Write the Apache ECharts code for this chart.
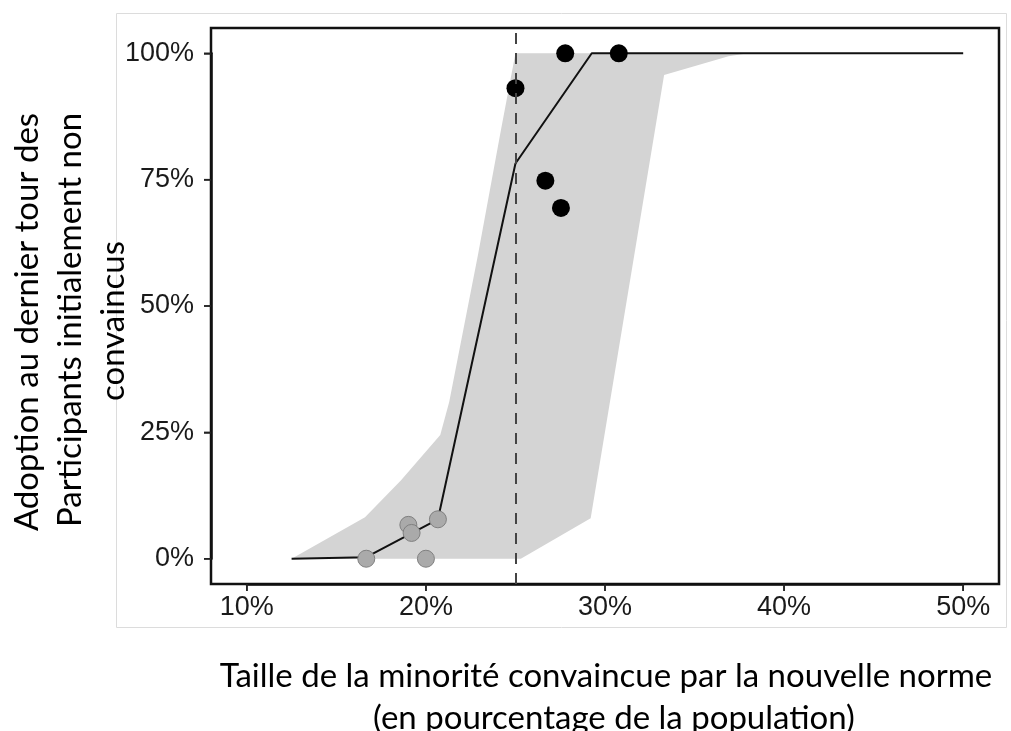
<!DOCTYPE html>
<html>
<head>
<meta charset="utf-8">
<script src="https://cdn.jsdelivr.net/npm/echarts@6/dist/echarts.min.js"></script>
<style>
  html, body { margin: 0; padding: 0; background: #fff; }
  #chart { width: 1011px; height: 731px; }
</style>
</head>
<body>
<div id="chart"></div>
<script>
// ---- data (percent units) ----
const xTicks = [10, 20, 30, 40, 50];
const yTicks = [0, 25, 50, 75, 100];

// fitted curve
const fitX = [12.5, 16.67, 20.67, 25.0, 29.26, 50];
const fitY = [0, 0.3, 7.8, 78.2, 100, 100];

// confidence band (upper / lower boundaries)
const bandUpperX = [12.5, 16.6, 18.6, 20.8, 21.3, 22.9, 24.2, 25.0, 50];
const bandUpperY = [0, 8.2, 15.5, 24.5, 31, 60, 85, 100, 100];
const bandLowerX = [12.5, 25.3, 29.2, 33.3, 36.9, 38.0, 50];
const bandLowerY = [0, 0, 8.0, 95.7, 99.4, 100, 100];

// observed groups: above threshold (black), below threshold (grey)
const convX = [25.0, 27.78, 30.77, 26.67, 27.54];
const convY = [93.1, 100, 100, 74.8, 69.4];
const grayX = [16.67, 19.02, 19.2, 20.67, 20.0];
const grayY = [0, 6.7, 5.1, 7.8, 0];

// threshold
const thresholdX = 25;

const zip = (xs, ys) => xs.map((x, i) => [x, ys[i]]);

// ---- layout ----
const W = 1011, H = 731;
const PL = 211, PT = 28, PR = 12, PB = 147;          // plot panel box
const X_MIN = 8, X_MAX = 52, Y_MIN = -5, Y_MAX = 105; // panel limits (with expansion)
const pw = W - PL - PR, ph = H - PT - PB;
const xPx = v => PL + (v - X_MIN) / (X_MAX - X_MIN) * pw;
const yPx = v => PT + (Y_MAX - v) / (Y_MAX - Y_MIN) * ph;
const xT0 = xTicks[0], xT1 = xTicks[xTicks.length - 1];
const yT0 = yTicks[0], yT1 = yTicks[yTicks.length - 1];
const TICK_LEN = 7;

const chart = echarts.init(document.getElementById('chart'), null, { renderer: 'canvas' });

const tickFont = "'Liberation Sans', Arial, sans-serif";
const titleFont = "Lato, 'Open Sans', sans-serif";
const titleSize = 33;
const frameLine = { show: true, onZero: false, lineStyle: { color: '#111', width: 2.5 } };
const tickStyle = { show: true, length: TICK_LEN, lineStyle: { color: '#222', width: 1.5 } };
const labelStyle = { formatter: v => v + '%', color: '#1a1a1a', fontSize: 27, fontFamily: tickFont };

const baseGraphic = [
  {
    type: 'rect', z: -10, silent: true,
    shape: { x: 116.5, y: 13.5, width: 890, height: 614 },
    style: { fill: null, stroke: '#dcdcdc', lineWidth: 1 }
  },
  {
    type: 'text', x: 27, y: 322, rotation: Math.PI / 2,
    style: { text: 'Adoption au dernier tour des', fontSize: titleSize, fontFamily: titleFont,
      fill: '#000', align: 'center', verticalAlign: 'middle' }
  },
  {
    type: 'text', x: 70, y: 320, rotation: Math.PI / 2,
    style: { text: 'Participants initialement non', fontSize: titleSize, fontFamily: titleFont,
      fill: '#000', align: 'center', verticalAlign: 'middle' }
  },
  {
    type: 'text', x: 113, y: 321, rotation: Math.PI / 2,
    style: { text: 'convaincus', fontSize: titleSize, fontFamily: titleFont,
      fill: '#000', align: 'center', verticalAlign: 'middle' }
  },
  {
    type: 'text', x: 606, y: 676,
    style: { text: 'Taille de la minorité convaincue par la nouvelle norme', fontSize: titleSize,
      fontFamily: titleFont, fill: '#000', align: 'center', verticalAlign: 'middle' }
  },
  {
    type: 'text', x: 614, y: 718,
    style: { text: '(en pourcentage de la population)', fontSize: titleSize,
      fontFamily: titleFont, fill: '#000', align: 'center', verticalAlign: 'middle' }
  }
];

const option = {
  animation: false,
  backgroundColor: '#fff',
  grid: [
    { // data panel
      left: PL, top: PT, right: PR, bottom: PB,
      show: true, borderColor: '#111', borderWidth: 2.5, backgroundColor: 'transparent'
    },
    { // x label ruler (spans the labelled x range)
      left: xPx(xT0), right: W - xPx(xT1), top: PT, bottom: PB, show: false
    },
    { // y label ruler (spans the labelled y range)
      left: PL, right: PR, top: yPx(yT1), bottom: H - yPx(yT0), show: false
    }
  ],
  xAxis: [
    { gridIndex: 0, type: 'value', min: X_MIN, max: X_MAX, show: false },
    {
      gridIndex: 1, type: 'value', min: xT0, max: xT1, interval: xTicks[1] - xTicks[0],
      splitLine: { show: false },
      axisLine: frameLine,
      axisTick: tickStyle,
      axisLabel: Object.assign({ margin: 10 }, labelStyle)
    },
    { gridIndex: 2, type: 'value', min: 0, max: 1, show: false }
  ],
  yAxis: [
    { gridIndex: 0, type: 'value', min: Y_MIN, max: Y_MAX, show: false },
    { gridIndex: 1, type: 'value', min: 0, max: 1, show: false },
    {
      gridIndex: 2, type: 'value', min: yT0, max: yT1, interval: yTicks[1] - yTicks[0],
      splitLine: { show: false },
      axisLine: frameLine,
      axisTick: tickStyle,
      axisLabel: Object.assign({ margin: 17 }, labelStyle)
    }
  ],
  series: [
    {
      type: 'custom',
      name: 'band',
      xAxisIndex: 0, yAxisIndex: 0,
      z: 1,
      data: [[bandUpperX[0], bandUpperY[0]]],
      renderItem: function (params, api) {
        const up = zip(bandUpperX, bandUpperY).map(p => api.coord(p));
        const lo = zip(bandLowerX, bandLowerY).map(p => api.coord(p)).reverse();
        return {
          type: 'polygon',
          shape: { points: up.concat(lo) },
          style: { fill: '#d4d4d4', stroke: null }
        };
      },
      silent: true
    },
    {
      type: 'line',
      name: 'fit',
      xAxisIndex: 0, yAxisIndex: 0,
      z: 3,
      data: zip(fitX, fitY),
      symbol: 'none',
      lineStyle: { color: '#111', width: 2 },
      silent: true,
      markLine: {
        silent: true,
        symbol: 'none',
        label: { show: false },
        lineStyle: { color: '#444', width: 2, type: [11, 9] },
        data: [{ xAxis: thresholdX }]
      }
    },
    {
      type: 'scatter',
      name: 'below',
      xAxisIndex: 0, yAxisIndex: 0,
      z: 4,
      data: zip(grayX, grayY),
      symbolSize: 17,
      itemStyle: { color: '#aaaaaa', borderColor: '#808080', borderWidth: 1, opacity: 1 }
    },
    {
      type: 'scatter',
      name: 'above',
      xAxisIndex: 0, yAxisIndex: 0,
      z: 4,
      data: zip(convX, convY),
      symbolSize: 18,
      itemStyle: { color: '#000', opacity: 1 }
    }
  ],
  graphic: baseGraphic
};

chart.setOption(option);

// outward tick marks, positioned through the panel's own scales
const tickMarks = [];
xTicks.forEach(v => {
  const p = chart.convertToPixel({ gridIndex: 0 }, [v, Y_MIN]);
  if (p) tickMarks.push({
    type: 'line', silent: true, z: 10,
    shape: { x1: p[0], y1: p[1], x2: p[0], y2: p[1] + TICK_LEN },
    style: { stroke: '#222', lineWidth: 1.5 }
  });
});
yTicks.forEach(v => {
  const p = chart.convertToPixel({ gridIndex: 0 }, [X_MIN, v]);
  if (p) tickMarks.push({
    type: 'line', silent: true, z: 10,
    shape: { x1: p[0] - TICK_LEN, y1: p[1], x2: p[0], y2: p[1] },
    style: { stroke: '#222', lineWidth: 1.5 }
  });
});
chart.setOption({ graphic: baseGraphic.concat(tickMarks) });
</script>
</body>
</html>
